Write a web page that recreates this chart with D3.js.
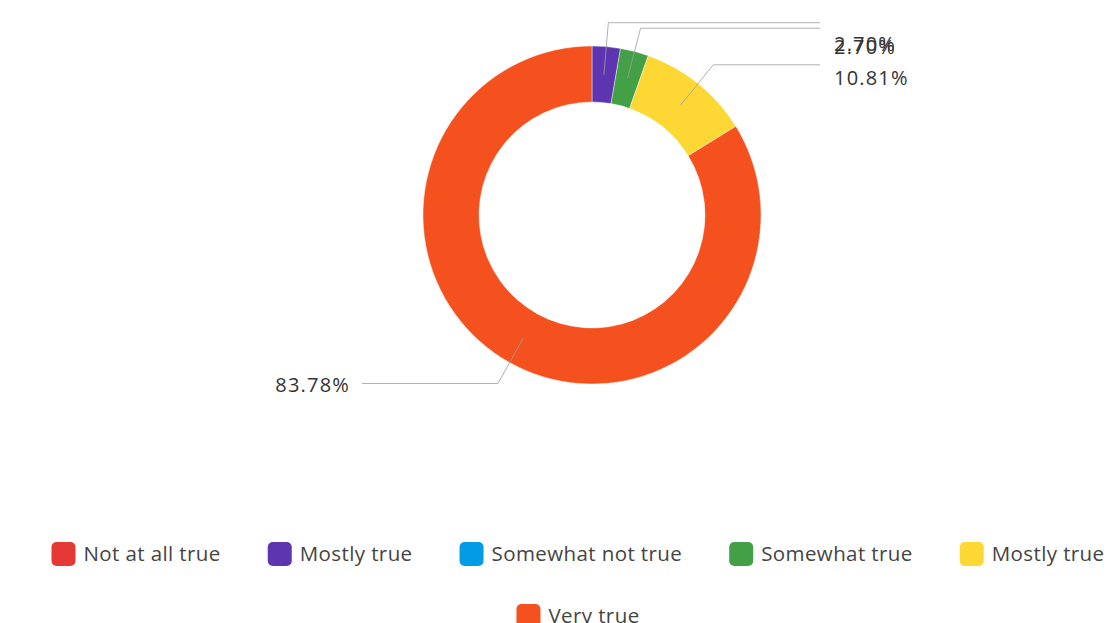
<!DOCTYPE html>
<html>
<head>
<meta charset="utf-8">
<script src="https://cdn.jsdelivr.net/npm/d3@7/dist/d3.min.js"></script>
<style>
  html, body { margin: 0; padding: 0; background: #fff; }
  svg { display: block; font-family: "Open Sans", "Noto Sans", sans-serif; }
</style>
</head>
<body>
<svg id="chart" width="1116" height="623"></svg>
<script>
// Response categories, in legend order
const categories = ["Not at all true", "Mostly true", "Somewhat not true", "Somewhat true", "Mostly true", "Very true"];
// Share of responses (%) for each category
const values = [0, 2.70, 0, 2.70, 10.81, 83.78];
const colors = ["#e53935", "#5e35b1", "#039be5", "#43a047", "#fdd835", "#f4511e"];

const svg = d3.select("#chart");
const cx = 592, cy = 215;
const outerR = 169, innerR = 113;

const pie = d3.pie().sort(null).value(d => d.value)
  .startAngle(0).endAngle(2 * Math.PI);
const data = categories.map((c, i) => ({ name: c, value: values[i], color: colors[i], idx: i }));
const arcs = pie(data);

const arc = d3.arc().innerRadius(innerR).outerRadius(outerR);

const g = svg.append("g").attr("transform", `translate(${cx},${cy})`);

g.selectAll("path.slice")
  .data(arcs.filter(a => a.data.value > 0))
  .join("path")
  .attr("class", "slice")
  .attr("d", arc)
  .attr("fill", d => d.data.color)
  .attr("stroke", "#fff")
  .attr("stroke-opacity", 0.5)
  .attr("stroke-width", 0.8);

// Leader lines: from the middle of the ring, out to an elbow, then horizontally to the label column
const midR = (innerR + outerR) / 2;
const elbowR = 193;
const rightEdge = 820, leftEdge = 362;
// vertical offset of the text from its leader line, per category
const textDy = [0, 21.5, 0, 19, 13, 1];

const polar = (r, a) => [r * Math.sin(a), -r * Math.cos(a)];

const labelled = arcs.filter(a => a.data.value > 0);
const lineG = svg.append("g");
const textG = svg.append("g");

labelled.forEach(a => {
  const mid = (a.startAngle + a.endAngle) / 2;
  const [x0, y0] = polar(midR, mid);
  const [x1, y1] = polar(elbowR, mid);
  const right = Math.sin(mid) >= 0;
  const p0 = [cx + x0, cy + y0];
  const p1 = [cx + x1, cy + y1];
  const p2 = [right ? rightEdge : leftEdge, cy + y1];
  lineG.append("path")
    .attr("d", d3.line()([p0, p1, p2]))
    .attr("fill", "none")
    .attr("stroke", "#9e9e9e")
    .attr("stroke-opacity", 0.8)
    .attr("stroke-width", 1);
  textG.append("text")
    .attr("x", right ? rightEdge + 14 : leftEdge - 12)
    .attr("y", p2[1] + textDy[a.data.idx])
    .attr("dy", "0.36em")
    .attr("text-anchor", right ? "start" : "end")
    .attr("font-size", 20)
    .attr("letter-spacing", 1.2)
    .attr("fill", "#333")
    .text(a.data.value.toFixed(2) + "%");
});

// Legend: centred rows of rounded swatches with labels
const legendFont = 20.5;
const legendSpacing = 0.4;
const sw = 24, gapText = 8, gapItem = 47;
const rowsY = [554, 616];
const measure = svg.append("text").attr("font-size", legendFont)
  .attr("letter-spacing", legendSpacing).attr("visibility", "hidden");
const itemW = data.map(d => {
  measure.text(d.name);
  return sw + gapText + measure.node().getComputedTextLength();
});
measure.remove();

const maxRow = 1080;
const rows = [[]];
let acc = 0;
data.forEach((d, i) => {
  const w = itemW[i] + (rows[rows.length - 1].length ? gapItem : 0);
  if (acc + w > maxRow && rows[rows.length - 1].length) {
    rows.push([]);
    acc = 0;
  }
  rows[rows.length - 1].push(i);
  acc += itemW[i] + (rows[rows.length - 1].length > 1 ? gapItem : 0);
});

const legendCx = 578;
const legend = svg.append("g");
rows.forEach((row, r) => {
  const total = row.reduce((s, i) => s + itemW[i], 0) + gapItem * (row.length - 1);
  let x = legendCx - total / 2;
  const y = rowsY[r];
  row.forEach(i => {
    const it = legend.append("g").attr("transform", `translate(${x},${y})`);
    it.append("rect")
      .attr("x", 0).attr("y", -sw / 2)
      .attr("width", sw).attr("height", sw)
      .attr("rx", 5)
      .attr("fill", data[i].color);
    it.append("text")
      .attr("x", sw + gapText)
      .attr("y", 0)
      .attr("dy", "0.36em")
      .attr("font-size", legendFont)
      .attr("letter-spacing", legendSpacing)
      .attr("fill", "#444")
      .text(data[i].name);
    x += itemW[i] + gapItem;
  });
});
</script>
</body>
</html>
